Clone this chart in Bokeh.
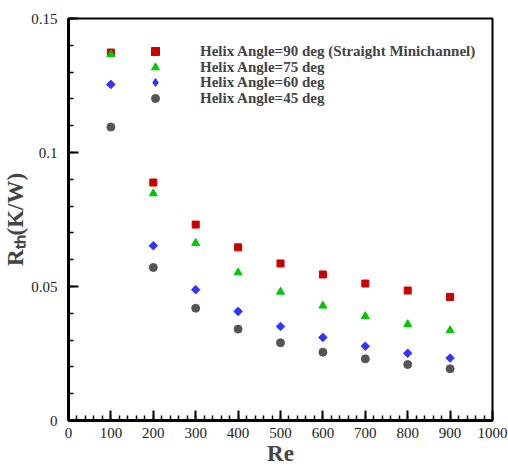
import math
from bokeh.plotting import figure
from bokeh.models import FixedTicker, Legend, LegendItem, Range1d, CustomJSTickFormatter
from bokeh.embed import file_html
from bokeh.resources import INLINE

re_vals = [100, 200, 300, 400, 500, 600, 700, 800, 900]
rth_90 = [0.1373, 0.0888, 0.0731, 0.0646, 0.0586, 0.0545, 0.0511, 0.0485, 0.0461]
rth_75 = [0.1366, 0.0847, 0.0662, 0.0552, 0.0480, 0.0428, 0.0389, 0.0359, 0.0336]
rth_60 = [0.1254, 0.0652, 0.0488, 0.0407, 0.0351, 0.0310, 0.0277, 0.0251, 0.0233]
rth_45 = [0.1095, 0.0571, 0.0419, 0.0341, 0.0290, 0.0255, 0.0230, 0.0209, 0.0193]

labels = ["Helix Angle=90 deg (Straight Minichannel)", "Helix Angle=75 deg",
          "Helix Angle=60 deg", "Helix Angle=45 deg"]
x_ticks = [0, 100, 200, 300, 400, 500, 600, 700, 800, 900, 1000]
y_ticks = [0, 0.05, 0.1, 0.15]

SERIF = "Liberation Serif"

p = figure(width=508, height=468, output_backend="svg", toolbar_location=None,
           x_range=Range1d(0, 1000), y_range=Range1d(0, 0.15),
           min_border_left=68, min_border_right=16, min_border_top=18, min_border_bottom=48)
p.grid.visible = False
p.background_fill_color = "white"
p.outline_line_color = "black"
p.outline_line_width = 2

r90 = p.scatter(re_vals, rth_90, marker="square", size=7, color="#cc0000")
r75 = p.scatter(re_vals, rth_75, marker="triangle", size=8, color="#00c800")
r60 = p.scatter(re_vals, rth_60, marker="square", size=6, angle=math.pi / 4, color="#3333ff")
r45 = p.scatter(re_vals, rth_45, marker="circle", size=8, color="#555555")
# legend swatch for the diamond series (zero-size on the plot, sized by the legend)
r60_key = p.scatter(re_vals, rth_60, marker="diamond", size=0, color="#3333ff")

for ax in (p.xaxis[0], p.yaxis[0]):
    ax.axis_line_width = 3
    ax.axis_line_color = "black"
    ax.major_tick_in = 10
    ax.major_tick_out = 0
    ax.minor_tick_in = 5
    ax.minor_tick_out = 0
    ax.major_tick_line_width = 2
    ax.minor_tick_line_width = 1.5
    ax.major_label_text_font = SERIF
    ax.major_label_text_font_size = "15px"
    ax.major_label_text_color = "#222222"

p.xaxis.ticker = FixedTicker(ticks=x_ticks, minor_ticks=list(range(0, 1001, 20)))
p.yaxis.ticker = FixedTicker(ticks=y_ticks, minor_ticks=[i * 0.01 for i in range(16)])
p.yaxis.formatter = CustomJSTickFormatter(code="return tick === 0 ? '0' : String(parseFloat(tick.toFixed(3)));")
p.xaxis.major_label_standoff = 7
p.yaxis.major_label_standoff = 11

p.xaxis.axis_label = "Re"
p.xaxis.axis_label_text_font = SERIF
p.xaxis.axis_label_text_font_style = "bold"
p.xaxis.axis_label_text_font_size = "23px"
p.xaxis.axis_label_standoff = 0

p.yaxis.axis_label = "R\u209c\u2095(K/W)"
p.yaxis.axis_label_text_font = SERIF
p.yaxis.axis_label_text_font_style = "bold"
p.yaxis.axis_label_text_font_size = "23px"
p.yaxis.axis_label_standoff = 0

# one legend row per series, placed to match the reference spacing
row_offsets = [359, 343, 328, 312]
for lab, rend, yoff in zip(labels, [r90, r75, r60_key, r45], row_offsets):
    leg = Legend(items=[LegendItem(label=lab, renderers=[rend])],
                 location=(77, yoff), border_line_color=None, background_fill_alpha=0,
                 padding=0, margin=0, spacing=0, glyph_width=20, glyph_height=20,
                 label_height=20, label_standoff=35,
                 label_text_font=SERIF, label_text_font_style="bold",
                 label_text_font_size="15px")
    p.add_layout(leg)

open("out.html", "w").write(file_html(p, INLINE))
